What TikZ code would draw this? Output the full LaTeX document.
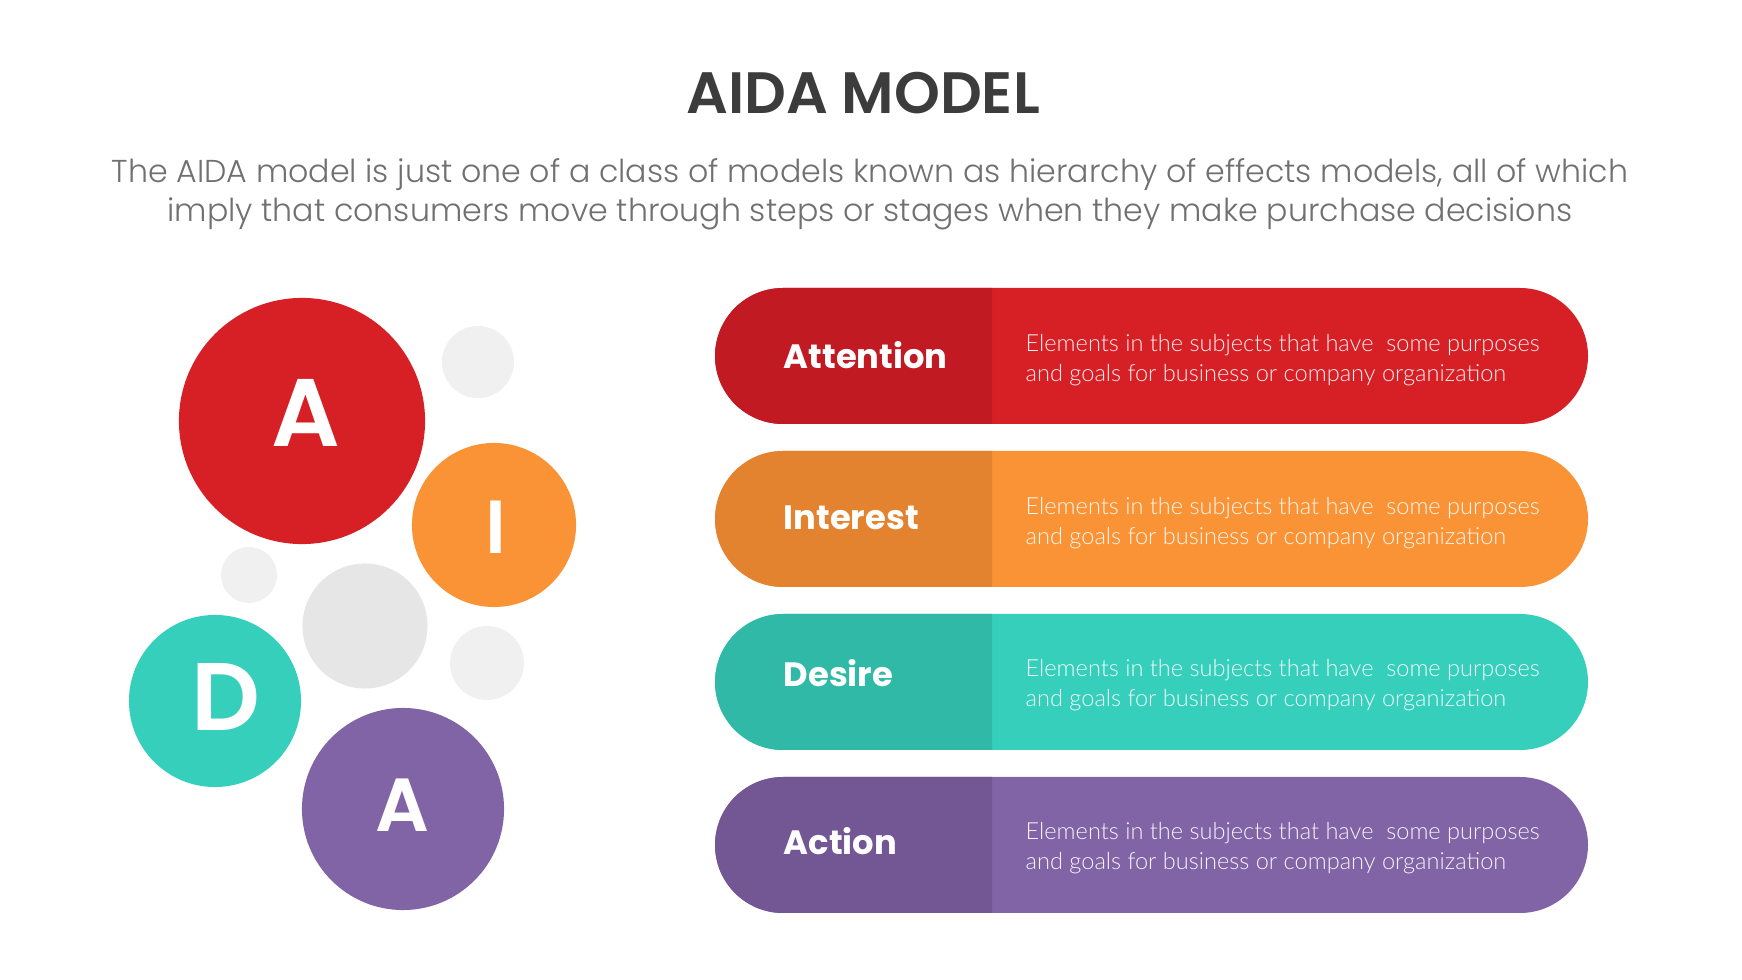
\documentclass[tikz,border=0pt]{standalone}
\usepackage{fontspec}
\setmainfont{Poppins}
\newfontfamily\lightfont{Poppins Light}
\newfontfamily\semifont{Poppins SemiBold}
\newfontfamily\descfont{Lato Light}

\definecolor{attnred}{HTML}{D71F26}
\definecolor{attndark}{HTML}{C21A23}
\definecolor{intorange}{HTML}{FA9335}
\definecolor{intdark}{HTML}{E4832F}
\definecolor{desteal}{HTML}{35CFBB}
\definecolor{desdark}{HTML}{30B9A6}
\definecolor{actpurple}{HTML}{8064A6}
\definecolor{actdark}{HTML}{735794}
\definecolor{softgray}{HTML}{F0F0F0}
\definecolor{midgray}{HTML}{E6E6E6}
\definecolor{titlegray}{HTML}{3C3C3C}
\definecolor{subgray}{HTML}{707070}

\begin{document}
\begin{tikzpicture}[x=0.01cm, y=-0.01cm,
    bubble/.style={circle, inner sep=0pt},
    letter/.style={text=white, inner sep=0pt, font=\semifont\fontsize{27.3}{30}\selectfont},
    smallletter/.style={letter, font=\semifont\fontsize{21.4}{24}\selectfont},
    stage/.style={anchor=base west, text=white, inner sep=0pt, font=\bfseries\fontsize{9.6}{11}\selectfont},
    desc/.style={anchor=west, text=white, text opacity=0.92, inner sep=0pt, align=left, font=\descfont\fontsize{6.7}{8.4}\selectfont}]
    \useasboundingbox (0,0) rectangle (1742,980);

    \node[text=titlegray, inner sep=0pt, font=\semifont\fontsize{16.6}{20}\selectfont] (title) at (863,93) {AIDA MODEL};
    \node[text=subgray, inner sep=0pt, align=center, font=\lightfont\fontsize{9.0}{11}\selectfont] (subtitle) at (870,194)
        {The AIDA model is just one of a class of models known as hierarchy of effects models, all of which\\
         imply that consumers move through steps or stages when they make purchase decisions};

    % bubbles
    \node[bubble, fill=softgray, minimum size=0.72cm] (grayTop) at (478,362) {};
    \node[bubble, fill=softgray, minimum size=0.56cm] (grayLeft) at (249,575) {};
    \node[bubble, fill=softgray, minimum size=0.74cm] (grayRight) at (487,663) {};
    \node[bubble, fill=midgray, minimum size=1.25cm] (grayMid) at (365,626) {};
    \node[bubble, fill=attnred, minimum size=2.46cm] (bubA) at (302,421) {};
    \node[bubble, fill=intorange, minimum size=1.64cm] (bubI) at (494,525) {};
    \node[bubble, fill=desteal, minimum size=1.72cm] (bubD) at (215,701) {};
    \node[bubble, fill=actpurple, minimum size=2.02cm] (bubAct) at (403,809) {};

    \node[letter] (letterA) at (306,413) {A};
    \node[smallletter] (letterI) at (496,527) {I};
    \node[letter] (letterD) at (226,697) {D};
    \node[smallletter] (letterAct) at (402,805) {A};

    % pills
    \fill[attnred, rounded corners=0.68cm] (715,288) rectangle (1588,424);
    \begin{scope}
        \clip (715,288) rectangle (992,424);
        \fill[attndark, rounded corners=0.68cm] (715,288) rectangle (1588,424);
    \end{scope}
    \fill[intorange, rounded corners=0.68cm] (715,451) rectangle (1588,587);
    \begin{scope}
        \clip (715,451) rectangle (992,587);
        \fill[intdark, rounded corners=0.68cm] (715,451) rectangle (1588,587);
    \end{scope}
    \fill[desteal, rounded corners=0.68cm] (715,614) rectangle (1588,750);
    \begin{scope}
        \clip (715,614) rectangle (992,750);
        \fill[desdark, rounded corners=0.68cm] (715,614) rectangle (1588,750);
    \end{scope}
    \fill[actpurple, rounded corners=0.68cm] (715,777) rectangle (1588,913);
    \begin{scope}
        \clip (715,777) rectangle (992,913);
        \fill[actdark, rounded corners=0.68cm] (715,777) rectangle (1588,913);
    \end{scope}

    \node[stage] (attention) at (783,369) {Attention};
    \node[stage] (interest) at (783,530) {Interest};
    \node[stage] (desire) at (783,687) {Desire};
    \node[stage] (action) at (783,855) {Action};

    \node[desc] (attentionText) at (1025,360) {Elements in the subjects that have\ \ some purposes\\and goals for business or company organization};
    \node[desc] (interestText) at (1025,523) {Elements in the subjects that have\ \ some purposes\\and goals for business or company organization};
    \node[desc] (desireText) at (1025,685) {Elements in the subjects that have\ \ some purposes\\and goals for business or company organization};
    \node[desc] (actionText) at (1025,848) {Elements in the subjects that have\ \ some purposes\\and goals for business or company organization};
\end{tikzpicture}
\end{document}
